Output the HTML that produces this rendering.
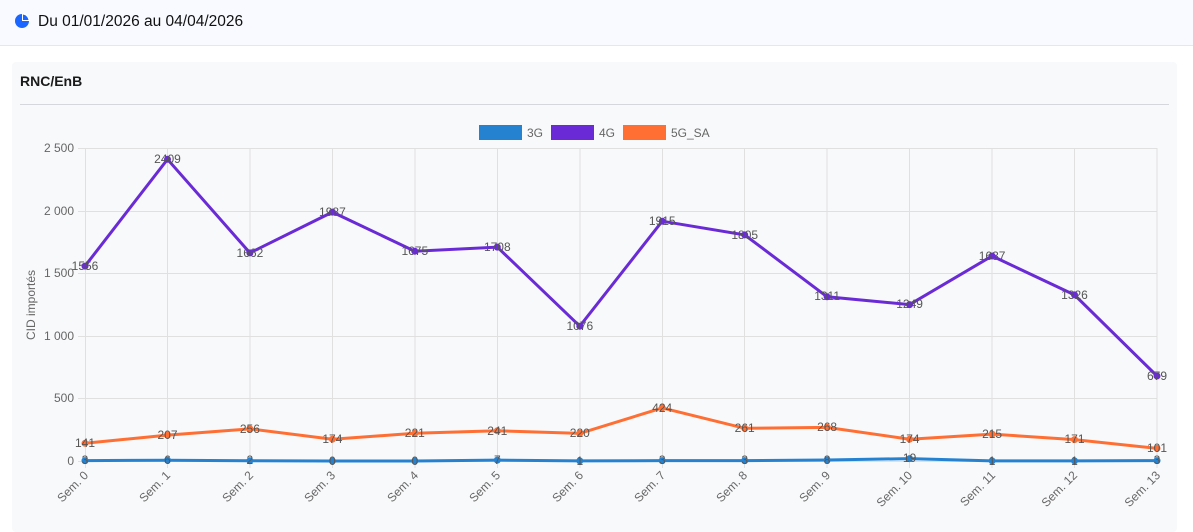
<!DOCTYPE html>
<html><head><meta charset="utf-8"><style>
body{margin:0;width:1193px;height:522px;background:#fff;font-family:"Liberation Sans",sans-serif;overflow:hidden;position:relative}
.hdr{position:absolute;left:0;top:0;width:1193px;height:45px;background:#f8faff;border-bottom:1px solid #e3e8ef}
.card{position:absolute;left:12px;top:62px;width:1165px;height:470px;background:#f8f9fb;border-radius:4px}
</style></head><body>
<div class="hdr"></div>
<div class="card"></div>
<svg width="1193" height="522" style="position:absolute;left:0;top:0" font-family="Liberation Sans, sans-serif">
<circle cx="22" cy="21" r="7" fill="#1a66ff"/>
<path d="M22 21 L22 13 A8 8 0 0 1 30 21 Z" fill="#fff"/>
<path d="M23 20 L23 14.5 A6.5 6.5 0 0 1 28.5 20 Z" fill="#1a66ff"/>
<text x="38" y="26" font-size="15.5" fill="#111">Du 01/01/2026 au 04/04/2026</text>
<text x="20" y="86" font-size="14" font-weight="bold" fill="#1a1a1a">RNC/EnB</text>
<line x1="20" y1="104.5" x2="1169" y2="104.5" stroke="#d5d7dc"/>
<rect x="479" y="125" width="43" height="15" fill="#2582d0"/><text x="527" y="137" font-size="12" fill="#666">3G</text>
<rect x="551" y="125" width="43" height="15" fill="#6a2bd6"/><text x="599" y="137" font-size="12" fill="#666">4G</text>
<rect x="623" y="125" width="43" height="15" fill="#ff6f33"/><text x="671" y="137" font-size="12" fill="#666">5G_SA</text>
<g stroke="#e0e0e0" stroke-width="1">
<line x1="78" y1="148.5" x2="1157" y2="148.5"/><line x1="78" y1="211.5" x2="1157" y2="211.5"/><line x1="78" y1="273.5" x2="1157" y2="273.5"/><line x1="78" y1="336.5" x2="1157" y2="336.5"/><line x1="78" y1="398.5" x2="1157" y2="398.5"/><line x1="78" y1="461.5" x2="1157" y2="461.5"/>
<line x1="85.5" y1="148" x2="85.5" y2="468"/><line x1="167.5" y1="148" x2="167.5" y2="468"/><line x1="250" y1="148" x2="250" y2="468"/><line x1="332.5" y1="148" x2="332.5" y2="468"/><line x1="415" y1="148" x2="415" y2="468"/><line x1="497.5" y1="148" x2="497.5" y2="468"/><line x1="580" y1="148" x2="580" y2="468"/><line x1="662.5" y1="148" x2="662.5" y2="468"/><line x1="744.5" y1="148" x2="744.5" y2="468"/><line x1="827" y1="148" x2="827" y2="468"/><line x1="909.5" y1="148" x2="909.5" y2="468"/><line x1="992" y1="148" x2="992" y2="468"/><line x1="1074.5" y1="148" x2="1074.5" y2="468"/><line x1="1157" y1="148" x2="1157" y2="468"/>
</g>
<g font-size="12" fill="#666" text-anchor="end">
<text x="74" y="152">2 500</text><text x="74" y="215">2 000</text><text x="74" y="277">1 500</text><text x="74" y="340">1 000</text><text x="74" y="402">500</text><text x="74" y="465">0</text>
</g>
<text transform="translate(35,305) rotate(-90)" font-size="12" fill="#666" text-anchor="middle">CID importés</text>
<g font-size="12" fill="#666" text-anchor="end">
<text transform="translate(89,476) rotate(-45)">Sem. 0</text><text transform="translate(171,476) rotate(-45)">Sem. 1</text><text transform="translate(254,476) rotate(-45)">Sem. 2</text><text transform="translate(336,476) rotate(-45)">Sem. 3</text><text transform="translate(419,476) rotate(-45)">Sem. 4</text><text transform="translate(501,476) rotate(-45)">Sem. 5</text><text transform="translate(584,476) rotate(-45)">Sem. 6</text><text transform="translate(666,476) rotate(-45)">Sem. 7</text><text transform="translate(748,476) rotate(-45)">Sem. 8</text><text transform="translate(831,476) rotate(-45)">Sem. 9</text><text transform="translate(913,476) rotate(-45)">Sem. 10</text><text transform="translate(996,476) rotate(-45)">Sem. 11</text><text transform="translate(1078,476) rotate(-45)">Sem. 12</text><text transform="translate(1161,476) rotate(-45)">Sem. 13</text>
</g>
<polyline fill="none" stroke="#6a2bd6" stroke-width="3" points="85,266.1 167.5,159.3 249.9,252.9 332.4,212.1 414.8,251.2 497.3,247.1 579.8,326.2 662.2,221.2 744.7,234.9 827.1,296.8 909.6,304.6 992.1,256 1074.5,294.9 1157,376"/>
<polyline fill="none" stroke="#ff6f33" stroke-width="3" points="85,443.3 167.5,435.1 249.9,428.9 332.4,439.2 414.8,433.3 497.3,430.8 579.8,433.4 662.2,407.9 744.7,428.3 827.1,427.4 909.6,439.2 992.1,434.1 1074.5,439.6 1157,448.4"/>
<polyline fill="none" stroke="#2582d0" stroke-width="3" points="85,460.6 167.5,460.2 249.9,460.7 332.4,461 414.8,461 497.3,460.1 579.8,460.9 662.2,460.6 744.7,460.6 827.1,460 909.6,458.6 992.1,460.9 1074.5,460.9 1157,460.6"/>
<g fill="#6a2bd6"><circle cx="85" cy="266.1" r="3.5"/><circle cx="167.5" cy="159.3" r="3.5"/><circle cx="249.9" cy="252.9" r="3.5"/><circle cx="332.4" cy="212.1" r="3.5"/><circle cx="414.8" cy="251.2" r="3.5"/><circle cx="497.3" cy="247.1" r="3.5"/><circle cx="579.8" cy="326.2" r="3.5"/><circle cx="662.2" cy="221.2" r="3.5"/><circle cx="744.7" cy="234.9" r="3.5"/><circle cx="827.1" cy="296.8" r="3.5"/><circle cx="909.6" cy="304.6" r="3.5"/><circle cx="992.1" cy="256" r="3.5"/><circle cx="1074.5" cy="294.9" r="3.5"/><circle cx="1157" cy="376" r="3.5"/></g>
<g fill="#ff6f33"><circle cx="85" cy="443.3" r="3.5"/><circle cx="167.5" cy="435.1" r="3.5"/><circle cx="249.9" cy="428.9" r="3.5"/><circle cx="332.4" cy="439.2" r="3.5"/><circle cx="414.8" cy="433.3" r="3.5"/><circle cx="497.3" cy="430.8" r="3.5"/><circle cx="579.8" cy="433.4" r="3.5"/><circle cx="662.2" cy="407.9" r="3.5"/><circle cx="744.7" cy="428.3" r="3.5"/><circle cx="827.1" cy="427.4" r="3.5"/><circle cx="909.6" cy="439.2" r="3.5"/><circle cx="992.1" cy="434.1" r="3.5"/><circle cx="1074.5" cy="439.6" r="3.5"/><circle cx="1157" cy="448.4" r="3.5"/></g>
<g fill="#2582d0"><circle cx="85" cy="460.6" r="3.5"/><circle cx="167.5" cy="460.2" r="3.5"/><circle cx="249.9" cy="460.7" r="3.5"/><circle cx="332.4" cy="461" r="3.5"/><circle cx="414.8" cy="461" r="3.5"/><circle cx="497.3" cy="460.1" r="3.5"/><circle cx="579.8" cy="460.9" r="3.5"/><circle cx="662.2" cy="460.6" r="3.5"/><circle cx="744.7" cy="460.6" r="3.5"/><circle cx="827.1" cy="460" r="3.5"/><circle cx="909.6" cy="458.6" r="3.5"/><circle cx="992.1" cy="460.9" r="3.5"/><circle cx="1074.5" cy="460.9" r="3.5"/><circle cx="1157" cy="460.6" r="3.5"/></g>
<g font-size="12" fill="#555" text-anchor="middle">
<text x="85" y="270">1556</text><text x="167.5" y="163">2409</text><text x="249.9" y="257">1662</text><text x="332.4" y="216">1987</text><text x="414.8" y="255">1675</text><text x="497.3" y="251">1708</text><text x="579.8" y="330">1076</text><text x="662.2" y="225">1915</text><text x="744.7" y="239">1805</text><text x="827.1" y="300">1311</text><text x="909.6" y="308">1249</text><text x="992.1" y="260">1637</text><text x="1074.5" y="299">1326</text><text x="1157" y="380">679</text>
<text x="85" y="447">141</text><text x="167.5" y="439">207</text><text x="249.9" y="433">256</text><text x="332.4" y="443">174</text><text x="414.8" y="437">221</text><text x="497.3" y="435">241</text><text x="579.8" y="437">220</text><text x="662.2" y="412">424</text><text x="744.7" y="432">261</text><text x="827.1" y="431">268</text><text x="909.6" y="443">174</text><text x="992.1" y="438">215</text><text x="1074.5" y="443">171</text><text x="1157" y="452">101</text>
<text x="85" y="464">3</text><text x="167.5" y="464">6</text><text x="249.9" y="464">2</text><text x="332.4" y="465">0</text><text x="414.8" y="465">0</text><text x="497.3" y="464">7</text><text x="579.8" y="465">1</text><text x="662.2" y="464">3</text><text x="744.7" y="464">3</text><text x="827.1" y="464">8</text><text x="909.6" y="462">19</text><text x="992.1" y="465">1</text><text x="1074.5" y="465">1</text><text x="1157" y="464">3</text>
</g>
</svg>
</body></html>
